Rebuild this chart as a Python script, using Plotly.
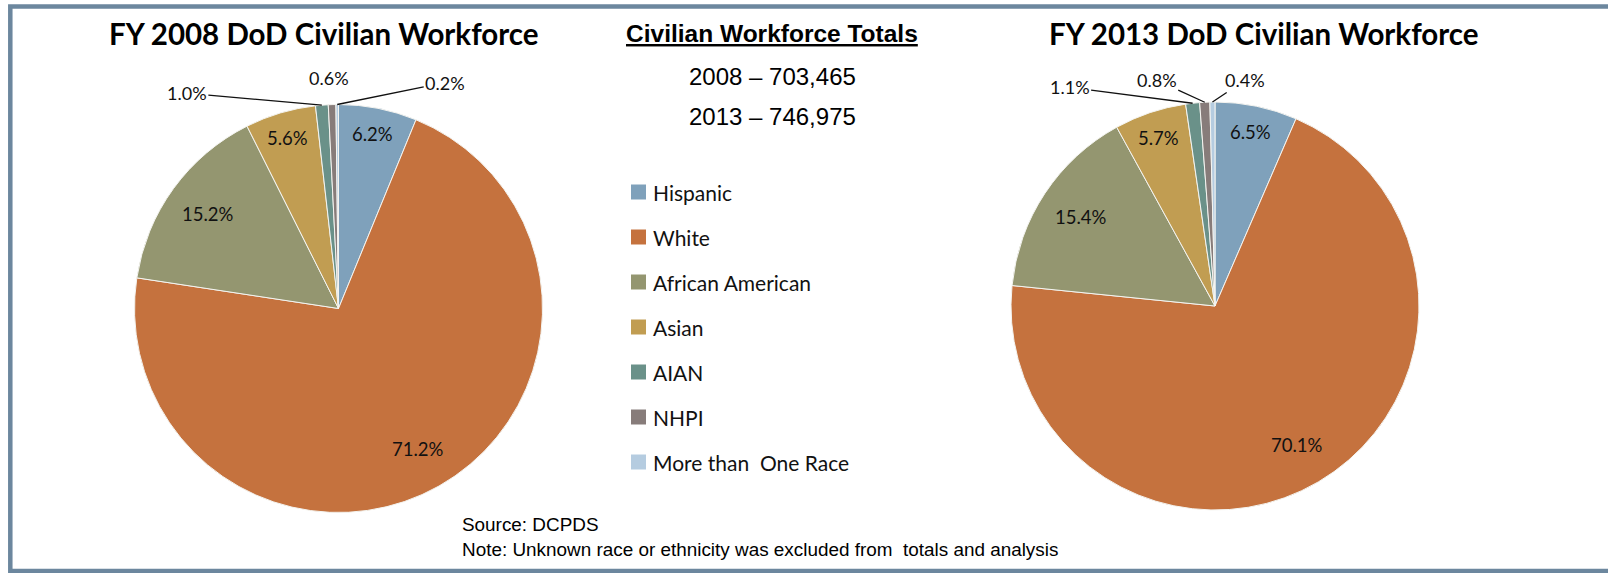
import math
import plotly.graph_objects as go

# ---------------- data ----------------
categories = ["Hispanic", "White", "African American", "Asian", "AIAN", "NHPI", "More than  One Race"]
values_2008 = [6.2, 71.2, 15.2, 5.6, 1.0, 0.6, 0.2]
values_2013 = [6.5, 70.1, 15.4, 5.7, 1.1, 0.8, 0.4]
years = [2008, 2013]
totals = [703465, 746975]
source_note = ["Source: DCPDS",
               "Note: Unknown race or ethnicity was excluded from  totals and analysis"]

# ---------------- style / layout ----------------
colors = ["#7fa1bb", "#c5723e", "#949670", "#c19d52", "#6a9189", "#877c7a", "#b5cce0"]
W, H = 1608, 573
R = 204
pie_centers = [(338.5, 308.5), (1215, 306)]
calibri_like = "Lato, 'Open Sans', sans-serif"
arial_like = "'Liberation Sans', Arial, sans-serif"

# label offsets (px) for small slices: (dx, dy, draw_leader)
small_label_offsets = [
    {4: (-135, -12, True), 5: (-3, -27, False), 6: (108, -22, True)},
    {4: (-123, -16, True), 5: (-48, -22, True), 6: (33, -22, True)},
]
legend_x, legend_y0, legend_step, legend_box = 631, 192, 45, 15


def px_to_paper(px, py):
    return px / W, 1 - py / H


fig = go.Figure()
annotations = []
shapes = []

for k, (vals, (cx, cy)) in enumerate(zip([values_2008, values_2013], pie_centers)):
    x0, y1 = px_to_paper(cx - R, cy - R)
    x1, y0 = px_to_paper(cx + R, cy + R)
    fig.add_trace(go.Pie(
        labels=categories,
        values=vals,
        sort=False,
        direction="clockwise",
        rotation=0,
        marker=dict(colors=colors, line=dict(color="#f4f4f0", width=1)),
        textinfo="none",
        hoverinfo="label+percent",
        domain=dict(x=[x0, x1], y=[y0, y1]),
        showlegend=False,
        name=str(years[k]),
    ))

    total = sum(vals)
    cum = 0.0
    for i, v in enumerate(vals):
        mid = (cum + v / 2) / total * 2 * math.pi
        cum += v
        label = f"{v:.1f}%"
        if i in small_label_offsets[k]:
            dx, dy, leader = small_label_offsets[k][i]
            tx, ty = cx + R * math.sin(mid), cy - R * math.cos(mid)
            px, py = px_to_paper(tx, ty)
            annotations.append(dict(
                x=px, y=py, xref="paper", yref="paper",
                text=label, showarrow=True, ax=dx, ay=dy,
                axref="pixel", ayref="pixel",
                arrowhead=0, arrowwidth=1.3,
                arrowcolor="#111111" if leader else "rgba(0,0,0,0)",
                standoff=0, startstandoff=0,
                font=dict(family=calibri_like, size=18, color="#111111"),
            ))
        else:
            f = 0.79 if v >= 10 else 0.87
            tx, ty = cx + f * R * math.sin(mid), cy - f * R * math.cos(mid)
            px, py = px_to_paper(tx, ty)
            annotations.append(dict(
                x=px, y=py, xref="paper", yref="paper",
                text=label, showarrow=False,
                xanchor="center", yanchor="middle",
                font=dict(family=calibri_like, size=18.5, color="#111111"),
            ))

# legend (shared by both pies)
for i, (cat, col) in enumerate(zip(categories, colors)):
    yc = legend_y0 + legend_step * i
    sx0, sy1 = px_to_paper(legend_x, yc - legend_box / 2)
    sx1, sy0 = px_to_paper(legend_x + legend_box, yc + legend_box / 2)
    shapes.append(dict(type="rect", xref="paper", yref="paper",
                       x0=sx0, x1=sx1, y0=sy0, y1=sy1,
                       fillcolor=col, line=dict(width=0)))
    tx, ty = px_to_paper(legend_x + legend_box + 5, yc)
    annotations.append(dict(
        x=tx, y=ty, xref="paper", yref="paper", showarrow=False,
        text=cat, xanchor="left", yanchor="middle",
        font=dict(family=calibri_like, size=21, color="#111111"),
    ))

# titles
title_pos = [(324, 34), (1264, 34)]
for yr, (tx, ty) in zip(years, title_pos):
    px, py = px_to_paper(tx, ty)
    annotations.append(dict(
        x=px, y=py, xref="paper", yref="paper", showarrow=False,
        text=f"<b>FY {yr} DoD Civilian Workforce</b>",
        xanchor="center", yanchor="middle",
        font=dict(family=calibri_like, size=29.5, color="#000000"),
    ))

# totals block
px, py = px_to_paper(772, 33)
annotations.append(dict(
    x=px, y=py, xref="paper", yref="paper", showarrow=False,
    text="<b><u>Civilian Workforce Totals</u></b>",
    xanchor="center", yanchor="middle",
    font=dict(family=arial_like, size=24.5, color="#000000"),
))
for yr, tot, ty in zip(years, totals, [76, 116]):
    px, py = px_to_paper(772, ty)
    annotations.append(dict(
        x=px, y=py, xref="paper", yref="paper", showarrow=False,
        text=f"{yr} – {tot:,}",
        xanchor="center", yanchor="middle",
        font=dict(family=arial_like, size=24, color="#000000"),
    ))

# footnote
for line, ty in zip(source_note, [524, 549]):
    px, py = px_to_paper(460, ty)
    annotations.append(dict(
        x=px, y=py, xref="paper", yref="paper", showarrow=False,
        text=line, xanchor="left", yanchor="middle",
        font=dict(family=arial_like, size=18.9, color="#000000"),
    ))

# outer frame
shapes.append(dict(
    type="rect", xref="paper", yref="paper",
    x0=10.3 / W, x1=1.02, y0=1 - 571 / H, y1=1 - 6.5 / H,
    line=dict(color="#6c879e", width=4.5),
    fillcolor="rgba(0,0,0,0)", layer="below",
))

fig.update_layout(
    width=W, height=H,
    margin=dict(l=0, r=0, t=0, b=0),
    paper_bgcolor="white",
    plot_bgcolor="white",
    showlegend=False,
    annotations=annotations,
    shapes=shapes,
)

fig.write_html("out.html",
               config={"displayModeBar": False},
               post_script="document.body.style.margin='0px';document.body.style.overflow='hidden';")
